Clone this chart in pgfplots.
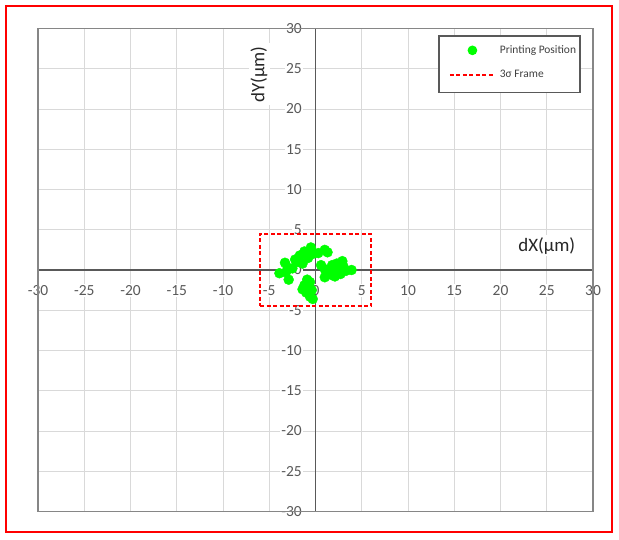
\documentclass[border=0pt]{standalone}
\usepackage{fontspec}
\setmainfont{Carlito}
\usepackage{pgfplots}
\pgfplotsset{compat=1.18}
\definecolor{ticklab}{HTML}{595959}
\definecolor{gridc}{HTML}{D9D9D9}
\definecolor{framec}{HTML}{868686}
\definecolor{axc}{HTML}{595959}
\definecolor{ptgreen}{HTML}{00FF00}
\definecolor{legtext}{HTML}{404040}
\tikzset{tl/.style={font=\fontsize{15.5}{18}\selectfont, text=ticklab, fill=white, inner sep=1.5bp}}
\pgfplotsset{
  markleg/.style={legend image code/.code={\path (0bp,0bp) (52bp,0bp);
    \draw[##1, draw=ptgreen, fill=ptgreen, mark size=4.2bp] plot coordinates {(29.5bp,0bp)};}},
  lineleg/.style={legend image code/.code={\path (0bp,-9bp) (52bp,0bp);
    \draw[##1, draw=red, line width=1.7bp] (7bp,0bp) -- (52bp,0bp);}},
}
\begin{document}
\begin{tikzpicture}
\path (0,0) rectangle (619bp,540bp);
\draw[red, line width=2bp] (6bp,7.5bp) rectangle (612bp,534bp);
\begin{axis}[
  at={(38bp,28.5bp)}, anchor=south west,
  scale only axis, width=555bp, height=483bp,
  xmin=-30, xmax=30, ymin=-30, ymax=30,
  axis lines=middle,
  axis line style={-, draw=axc, line width=1.3bp},
  xtick={-30,-25,...,30}, ytick={-30,-25,...,30},
  hide obscured x ticks=false, hide obscured y ticks=false,
  major tick length=0pt,
  grid=major, major grid style={draw=gridc, line width=0.8bp},
  tick label style={font=\fontsize{15.5}{18}\selectfont, text=ticklab, fill=white, inner sep=1.5bp},
  /pgf/number format/assume math mode=true,
  xticklabel style={yshift=-14bp},
  yticklabel style={xshift=-12bp},
  clip=false,
  legend cell align=left,
  legend style={
    at={(axis description cs:0.7213,0.9855)}, anchor=north west,
    draw=axc, line width=1.2bp, fill=white,
    font=\fontsize{11.5}{13}\selectfont, text=legtext,
    inner xsep=3bp, inner ysep=8bp,
    row sep=12bp,
    nodes={inner sep=1bp, text height=8bp, text depth=2.5bp},
    /tikz/every odd column/.style={column sep=3bp},
  },
]
\addplot[only marks, mark=*, mark size=5bp, mark options={fill=ptgreen, draw=ptgreen}, markleg]
  coordinates {
  (-3.9,-0.4) (-3.3,0.9) (-3.0,0.3) (-2.9,-1.2) (-3.2,-0.3) (-2.5,0.2)
  (-2.2,1.3) (-1.7,1.8) (-1.2,2.3) (-0.8,1.5) (-0.5,2.8) (-1.4,0.8)
  (-0.3,2.0) (0.3,2.1) (1.0,2.5) (1.3,2.2) (-1.9,1.0)
  (0.6,0.6) (1.0,0.1) (1.3,-0.4) (1.0,-0.9) (1.7,-0.6) (2.0,0.3)
  (2.3,0.8) (2.6,0.2) (2.9,1.1) (3.0,0.5) (2.4,-0.3) (3.3,-0.1)
  (3.9,0.0) (1.8,0.6) (2.1,-0.8) (2.7,-0.5)
  (-0.6,-1.5) (-1.2,-1.9) (-0.4,-2.5) (-1.0,-2.8) (-0.6,-3.3) (-0.3,-3.6)
  (-1.4,-2.4) (-0.9,-1.2)
  };
\addlegendentry{Printing Position}
\addplot[red, line width=2bp, dash pattern=on 4bp off 2.5bp, lineleg]
  coordinates {(-6,-4.5) (6,-4.5) (6,4.5) (-6,4.5) (-6,-4.5)};
\addlegendentry{3σ Frame}
\draw[framec, line width=1.5bp] (rel axis cs:0,0) rectangle (rel axis cs:1,1);
\node[tl, anchor=north, yshift=-14bp] at (axis cs:0,0) {0};
\node[tl, anchor=east, xshift=-12bp] at (axis cs:0,0) {0};
\node[fill=white, inner xsep=3bp, inner ysep=2bp, text=black!85, font=\fontsize{19}{22}\selectfont] at (axis cs:25,3) {dX(µm)};
\node[fill=white, inner xsep=3bp, inner ysep=2bp, rotate=90, text=black!85, font=\fontsize{19}{22}\selectfont] at (axis cs:-6.1,24.3) {dY(µm)};
\end{axis}
\end{tikzpicture}
\end{document}
